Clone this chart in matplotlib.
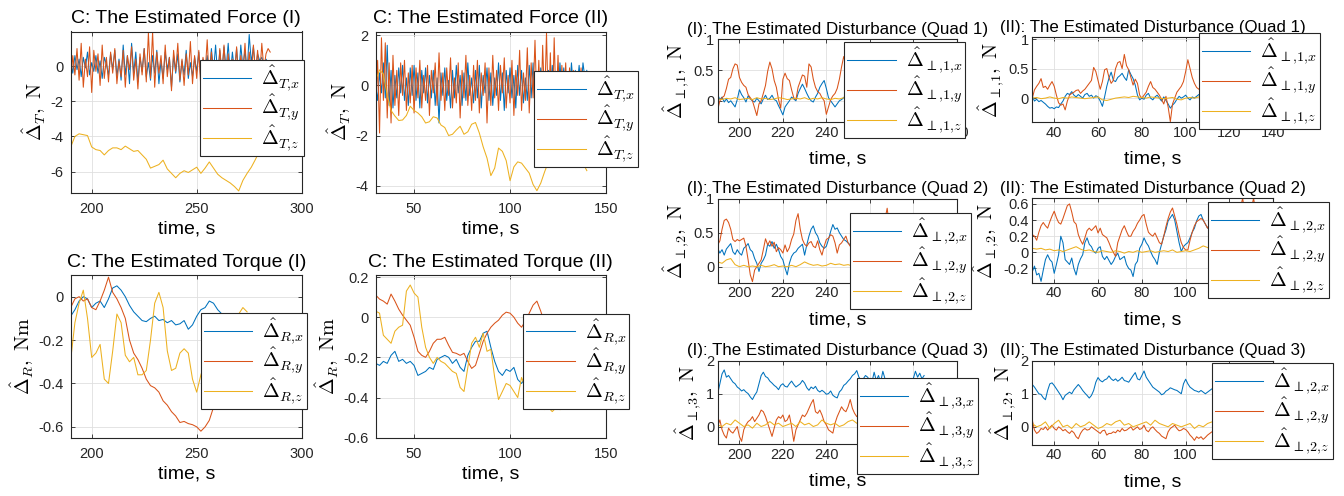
import numpy as np
import matplotlib
matplotlib.use("Agg")
import matplotlib.pyplot as plt
from matplotlib.ticker import FuncFormatter

plt.rcParams['font.family'] = ['Liberation Sans', 'DejaVu Sans']
plt.rcParams['mathtext.fontset'] = 'cm'
plt.rcParams['axes.unicode_minus'] = False

BLUE, ORANGE, YELLOW = '#0072BD', '#D95319', '#EDB120'

### Data
# C: estimated force (I), t = 190..285 s
force1_x = [0.3, -0.4, 0.6, -0.2, 0.4, -0.6, 0.5, -0.1, 0.8, -0.5,
            0.2, -0.3, 0.6, -0.4, 0.3, -0.7, 0.5, 0.1, -0.5, 0.7,
            -0.2, 0.9, -0.6, 0.4, -0.8, 1.2, -0.5, 0.6, -1.0, 1.3,
            -0.4, 0.8, -0.9, 0.5, -0.3, 1.0, -0.6, 0.2, -0.8, 0.6,
            -0.4, 0.9, -1.0, 0.3, -0.7, 0.8, -0.2, 0.5, -1.2, 0.6,
            -0.4, 0.7, -0.9, 0.3, -0.5, 0.9, -0.7, 0.2, -0.6, 0.5,
            -0.3, 0.8, -0.8, 0.4, -0.2, 0.6, -0.5, 1.0, -0.3, 1.2,
            -0.6, 0.9, -0.4, 1.1, -0.2, 1.3, -0.5, 0.8, -0.3, 1.0,
            -0.6, 1.2, -0.1, 0.9, -0.4, 1.8, 0.2, 1.1, -0.3, 0.7,
            0.3, 0.5, 0.1, 0.4, 0.2, 0.3]
force1_y = [-1.0, 0.6, -0.5, 1.0, -0.8, 1.3, -1.2, 0.4, -0.6, 1.1,
            -1.5, 0.9, -0.3, 0.7, -1.1, 1.2, -0.7, 0.5, -0.9, 0.8,
            -0.4, 1.0, -1.0, 0.3, -0.6, 0.9, -1.2, 0.6, -0.2, 1.1,
            -0.8, 0.4, -1.3, 0.7, -0.5, 1.0, -0.9, 1.9, -0.7, 1.95,
            -1.2, 0.8, -0.4, 0.6, -1.0, 1.2, -0.6, 0.5, -1.4, 0.9,
            -0.3, 1.3, -0.8, 0.4, -1.1, 0.7, -0.5, 1.4, -1.0, 0.6,
            -0.7, 0.9, -1.3, 0.5, -0.4, 1.5, -0.9, 0.8, -0.6, 0.3,
            -1.1, 1.0, -0.5, 1.2, -0.8, 0.7, -1.0, 0.4, -0.6, 1.1,
            -0.9, 0.6, -0.3, 1.3, -0.7, 0.8, -0.5, 1.2, -0.4, 0.9,
            -0.6, 1.3, -0.2, 0.7, 1.0, 0.8]
force1_z = [-4.6, -4.0, -3.85, -3.9, -3.95, -4.6, -4.75, -4.8, -5.05, -4.8,
            -4.65, -4.65, -4.75, -4.55, -4.7, -4.85, -4.8, -5.05, -5.3, -5.8,
            -5.7, -5.6, -5.35, -5.85, -6.1, -6.35, -6.1, -5.95, -6.05, -5.9,
            -5.75, -6.1, -5.8, -5.45, -5.8, -6.15, -6.35, -6.5, -6.65, -6.85,
            -7.1, -6.5, -6.1, -5.75, -5.3, -4.8, -4.65, -4.5]

# C: estimated force (II), t = 30..140 s
force2_x = [0.0, -0.6, 0.5, -0.3, 0.9, -0.5, 1.6, -0.8, 0.6, -0.9,
            0.4, -0.5, 0.7, -0.3, 0.8, -0.6, 0.3, -0.8, 0.7, -0.4,
            0.8, -0.6, 0.5, -0.9, 0.6, -0.3, 0.7, -0.7, 0.4, -0.5,
            0.6, -0.8, 0.3, -1.5, 0.5, -0.4, 0.7, -0.6, 0.2, -0.9,
            0.6, -0.5, 0.8, -0.3, 0.4, -0.8, 0.5, -0.6, 0.9, -0.4,
            0.3, -0.7, 0.6, -0.5, 0.8, -0.9, 0.4, -0.3, 0.7, -0.6,
            0.5, -0.8, 0.3, -0.4, 0.9, -0.6, 0.5, -1.0, 0.6, -0.3,
            0.7, -0.5, 0.4, -0.9, 0.8, -0.4, 0.6, -0.7, 0.3, -0.6,
            0.8, -0.5, 0.9, -0.8, 0.4, -0.6, 0.7, -0.3, 0.5, -0.7,
            0.6, -0.4, 0.8, -0.5, 0.3, -0.6, 0.9, -0.2, 0.7, -0.4,
            0.5, -0.3, 0.9, -0.1, 0.6, 0.0, 0.8, -0.2, 0.9, 0.3, 0.6]
force2_y = [-1.1, 1.0, -1.9, 1.9, -0.6, 1.7, -1.3, 0.9, -1.5, 1.2,
            -0.8, 0.6, -1.2, 0.9, -0.4, 1.0, -1.0, 0.5, -0.7, 0.8,
            -1.1, 0.7, -0.5, 1.0, -0.9, 0.4, -0.6, 0.8, -1.2, 0.6,
            -0.3, 0.9, -0.8, 1.3, -0.6, 0.5, -1.0, 0.7, -0.4, 1.1,
            -0.9, 0.3, -0.7, 0.9, -1.3, 0.6, -0.5, 1.2, -0.8, 0.4,
            -1.0, 0.8, -0.6, 1.0, -1.1, 0.5, -0.4, 0.9, -1.5, 0.7,
            -0.8, 1.2, -0.5, 0.6, -1.0, 0.8, -0.3, 1.1, -0.9, 0.4,
            -0.7, 1.0, -1.2, 0.6, -0.4, 1.4, -1.0, 0.5, -0.6, 1.5,
            -1.1, 0.9, -0.5, 1.8, -0.8, 1.0, -1.3, 1.6, -0.7, 2.1,
            -1.2, 1.3, -1.4, 1.9, -0.9, 1.2, -1.0, 0.8, -0.6, 0.9,
            -1.1, 0.7, -0.5, 0.6, -0.8, 0.5, -0.4, 0.7, -0.6, 0.4, -0.2]
force2_z = [0.2, 0.62, 0.45, -0.4, -1.0, -1.22, -1.4, -1.38, -1.2, -0.83,
            -1.0, -1.1, -1.25, -1.5, -1.45, -1.25, -1.3, -1.58, -1.68, -2.0,
            -1.95, -1.78, -1.63, -1.95, -1.85, -1.55, -1.48, -1.9, -2.45, -2.9,
            -3.6, -3.3, -2.5, -2.63, -3.0, -3.8, -3.25, -3.05, -3.1, -3.3,
            -3.5, -3.95, -4.2, -3.9, -3.45, -3.05, -3.1, -3.15, -3.05, -3.1,
            -3.15, -3.05, -3.1, -3.05, -3.1, -3.4]

# C: estimated torque (I), t = 190..274 s
torque1_x = [-0.09, -0.06, -0.02, 0.0, -0.01, -0.05, -0.03, -0.02, -0.05, -0.01,
             0.04, 0.05, 0.03, 0.0, -0.04, -0.07, -0.09, -0.11, -0.115, -0.1,
             -0.09, -0.11, -0.105, -0.12, -0.11, -0.13, -0.125, -0.11, -0.15, -0.13,
             -0.09, -0.06, -0.05, -0.02, -0.03, -0.06, -0.08, -0.1, -0.12, -0.11,
             -0.13, -0.12, -0.14]
torque1_y = [-0.05, -0.01, 0.0, -0.02, -0.01, -0.05, -0.06, -0.02, 0.03, 0.09,
             0.02, -0.01, -0.05, -0.1, -0.2, -0.26, -0.29, -0.33, -0.38, -0.41,
             -0.42, -0.44, -0.48, -0.5, -0.53, -0.55, -0.58, -0.575, -0.585, -0.59,
             -0.6, -0.62, -0.6, -0.57, -0.51, -0.45, -0.4, -0.36, -0.33, -0.3,
             -0.28, -0.27, -0.26]
torque1_z = [-0.29, -0.12, -0.03, 0.03, -0.1, -0.28, -0.26, -0.22, -0.38, -0.4,
             -0.25, -0.08, -0.12, -0.27, -0.3, -0.28, -0.36, -0.36, -0.34, -0.2,
             -0.03, 0.02, -0.05, -0.25, -0.34, -0.33, -0.26, -0.24, -0.26, -0.38,
             -0.44, -0.36, -0.3, -0.25, -0.2, -0.18, -0.15, -0.17, -0.12, -0.1,
             -0.08, -0.05, -0.07]

# C: estimated torque (II), t = 30..126 s
torque2_x = [-0.23, -0.24, -0.22, -0.23, -0.19, -0.17, -0.22, -0.21, -0.23, -0.22,
             -0.24, -0.29, -0.28, -0.27, -0.25, -0.26, -0.21, -0.2, -0.19, -0.2,
             -0.23, -0.21, -0.25, -0.27, -0.19, -0.15, -0.12, -0.12, -0.08, -0.07,
             -0.15, -0.22, -0.27, -0.29, -0.26, -0.27, -0.25, -0.31, -0.33, -0.3,
             -0.28, -0.27, -0.3, -0.32, -0.3, -0.29, -0.31, -0.3, -0.32]
torque2_y = [0.11, 0.09, 0.08, 0.065, 0.115, 0.08, 0.04, 0.01, -0.015, -0.04,
             -0.1, -0.17, -0.19, -0.2, -0.17, -0.13, -0.11, -0.11, -0.1, -0.14,
             -0.175, -0.18, -0.19, -0.18, -0.22, -0.255, -0.24, -0.18, -0.12, -0.08,
             -0.05, -0.03, -0.015, 0.01, 0.025, 0.02, 0.0, -0.03, -0.05, -0.02,
             0.02, 0.06, 0.08, 0.03, -0.03, -0.06, -0.08, -0.1, -0.11]
torque2_z = [0.03, 0.02, -0.09, -0.11, -0.13, -0.07, -0.05, -0.04, 0.13, 0.16,
             0.12, 0.1, -0.05, -0.15, -0.2, -0.23, -0.2, -0.22, -0.23, -0.25,
             -0.27, -0.28, -0.35, -0.37, -0.25, -0.13, -0.1, -0.15, -0.08, -0.17,
             -0.16, -0.3, -0.41, -0.37, -0.33, -0.34, -0.37, -0.4, -0.3, -0.35,
             -0.38, -0.42, -0.4, -0.43, -0.46, -0.45, -0.47, -0.45, -0.46]

# (I) disturbance quad 1, t = 190..285 s
q1a_x = [0.1, 0.02, 0.06, -0.02, 0.03, -0.03, 0.0, -0.05, -0.1, 0.02,
         0.18, 0.1, 0.05, -0.02, 0.08, 0.03, 0.0, -0.02, 0.04, 0.0,
         -0.05, 0.03, 0.09, 0.02, 0.04, 0.09, 0.02, 0.0, -0.08, -0.15,
         -0.23, -0.1, -0.05, 0.0, 0.06, 0.03, 0.0, 0.12, 0.2, 0.27,
         0.2, 0.12, 0.05, 0.0, -0.02, 0.06, 0.12, 0.22, 0.28, 0.33,
         0.2, 0.05, 0.0, -0.05, -0.1, -0.05, 0.0, 0.02, 0.05, 0.1,
         0.15, 0.1, 0.05, 0.0, -0.05, 0.0, 0.08, 0.12, 0.05, 0.0,
         -0.05, 0.02, 0.1, 0.15, 0.08, 0.0, -0.05, 0.0, 0.05, 0.1,
         0.05, 0.0, 0.02, 0.08, 0.12, 0.06, 0.0, -0.04, 0.02, 0.06,
         0.1, 0.05, 0.0, 0.03, 0.06, 0.02]
q1a_y = [-0.15, 0.0, 0.05, 0.08, 0.2, 0.35, 0.38, 0.52, 0.6, 0.58,
         0.38, 0.3, 0.25, 0.22, 0.1, 0.05, 0.0, -0.12, -0.24, -0.05,
         0.0, 0.12, 0.25, 0.48, 0.63, 0.52, 0.33, 0.22, 0.02, -0.12,
         0.35, 0.45, 0.36, 0.33, 0.18, 0.05, 0.02, 0.22, 0.32, 0.42,
         0.4, 0.22, 0.6, 0.55, 0.35, 0.22, 0.15, 0.12, 0.05, 0.0,
         -0.22, -0.1, 0.02, 0.08, 0.12, 0.2, 0.35, 0.55, 0.72, 0.6,
         0.45, 0.3, 0.2, 0.1, 0.15, 0.3, 0.45, 0.55, 0.4, 0.25,
         0.1, 0.0, -0.05, 0.1, 0.25, 0.4, 0.5, 0.35, 0.2, 0.1,
         0.05, 0.15, 0.3, 0.45, 0.35, 0.2, 0.1, 0.0, 0.05, 0.2,
         0.3, 0.25, 0.15, 0.1, 0.05, 0.1]
q1a_z = [0.03, 0.02, 0.04, 0.03, 0.05, 0.02, 0.03, 0.04, 0.02, 0.05,
         0.03, 0.04, 0.02, 0.03, 0.05, 0.04, 0.02, 0.03, 0.04, 0.03,
         0.05, 0.02, 0.04, 0.03, 0.05, 0.03, 0.02, 0.04, 0.03, 0.05,
         0.04, 0.02, 0.03, 0.04, 0.03, 0.02, 0.04, 0.03, 0.05, 0.03,
         0.02, 0.04, 0.03, 0.02, 0.04, 0.03, 0.05, 0.03]

# (II) disturbance quad 1, t = 30..139 s
q1b_x = [0.03, -0.05, -0.02, -0.06, -0.04, -0.07, -0.1, -0.14, -0.17, -0.16,
         -0.18, -0.15, -0.16, -0.1, -0.05, 0.03, 0.08, 0.06, 0.11, 0.05,
         0.02, 0.06, 0.03, 0.0, 0.06, 0.08, 0.03, 0.05, 0.0, 0.04,
         0.02, -0.05, -0.14, 0.02, 0.2, 0.34, 0.44, 0.3, 0.28, 0.35,
         0.38, 0.42, 0.35, 0.3, 0.48, 0.4, 0.33, 0.22, 0.05, -0.03,
         0.0, -0.02, 0.05, 0.08, 0.0, -0.03, 0.02, 0.05, 0.0, -0.05,
         0.02, -0.04, -0.1, -0.17, -0.12, -0.08, -0.02, 0.03, 0.0, 0.02,
         0.05, 0.0, -0.03, 0.02, 0.0, 0.03, 0.06, 0.02, -0.02, 0.0,
         0.05, 0.08, 0.04, 0.0, -0.03, 0.02, 0.06, 0.1, 0.05, 0.0,
         -0.04, 0.0, 0.05, 0.02, -0.02, 0.03, 0.07, 0.04, 0.0, -0.03,
         0.01, 0.05, 0.03, 0.0, 0.02, 0.04, 0.01, -0.02, 0.0, 0.03]
q1b_y = [0.0, 0.14, 0.2, 0.25, 0.33, 0.18, 0.2, 0.15, 0.22, 0.28,
         0.2, 0.05, -0.08, -0.12, -0.1, -0.2, -0.05, 0.05, 0.08, 0.1,
         0.13, 0.14, 0.08, 0.12, 0.15, 0.2, 0.25, 0.3, 0.52, 0.45,
         0.3, 0.15, 0.28, 0.48, 0.5, 0.35, 0.25, 0.3, 0.5, 0.6,
         0.62, 0.5, 0.74, 0.55, 0.48, 0.35, 0.22, 0.32, 0.25, 0.05,
         0.0, 0.05, 0.1, 0.2, 0.28, 0.18, 0.15, 0.1, 0.05, -0.02,
         -0.1, 0.03, -0.15, -0.4, -0.1, 0.0, 0.1, 0.15, 0.2, 0.28,
         0.45, 0.65, 0.5, 0.35, 0.25, 0.18, 0.15, 0.2, 0.3, 0.25,
         0.15, 0.1, 0.05, 0.1, 0.2, 0.3, 0.35, 0.25, 0.15, 0.05,
         0.0, 0.1, 0.2, 0.25, 0.2, 0.1, 0.05, 0.1, 0.15, 0.2,
         0.15, 0.1, 0.05, 0.0, 0.05, 0.1, 0.15, 0.1, 0.05, 0.08]
q1b_z = [0.0, 0.01, -0.01, 0.0, 0.02, 0.0, -0.01, 0.01, 0.0, 0.02,
         0.01, 0.0, -0.01, 0.0, 0.01, 0.02, -0.03, -0.04, -0.02, 0.0,
         0.01, 0.02, 0.01, 0.03, 0.02, 0.01, 0.0, 0.02, 0.01, 0.0,
         -0.01, 0.0, 0.01, -0.02, -0.03, 0.0, 0.01, 0.0, 0.02, 0.01,
         0.0, -0.01, 0.0, 0.01, 0.02, 0.0, -0.01, 0.01, 0.0, 0.02,
         0.01, 0.0, 0.01, 0.0, 0.01]

# (I) disturbance quad 2, t = 190..285 s
q2a_x = [0.27, 0.2, 0.25, 0.17, 0.26, 0.3, 0.34, 0.22, 0.18, 0.25,
         0.2, 0.17, 0.27, 0.3, 0.34, 0.25, 0.22, 0.12, 0.05, -0.07,
         0.05, 0.1, 0.17, 0.33, 0.3, 0.37, 0.27, 0.33, 0.25, 0.15,
         0.1, -0.02, -0.12, 0.05, 0.15, 0.2, 0.22, 0.27, 0.3, 0.33,
         0.17, 0.32, 0.45, 0.55, 0.6, 0.5, 0.45, 0.35, 0.3, 0.27,
         0.3, 0.4, 0.52, 0.62, 0.55, 0.57, 0.5, 0.45, 0.4, 0.38,
         0.35, 0.32, 0.4, 0.45, 0.5, 0.42, 0.35, 0.3, 0.28, 0.35,
         0.42, 0.48, 0.4, 0.35, 0.3, 0.25, 0.3, 0.38, 0.45, 0.4,
         0.35, 0.3, 0.28, 0.32, 0.38, 0.42, 0.36, 0.3, 0.27, 0.3,
         0.35, 0.4, 0.36, 0.3, 0.28, 0.32]
q2a_y = [0.32, 0.38, 0.55, 0.68, 0.7, 0.65, 0.55, 0.4, 0.37, 0.4,
         0.38, 0.4, 0.42, 0.3, 0.1, -0.12, -0.22, -0.05, 0.0, 0.05,
         0.1, 0.25, 0.41, 0.32, 0.38, 0.3, 0.36, 0.22, 0.28, 0.25,
         0.2, 0.32, 0.22, 0.28, 0.4, 0.48, 0.68, 0.78, 0.55, 0.4,
         0.33, 0.3, 0.35, 0.37, 0.3, 0.28, 0.38, 0.25, 0.17, 0.3,
         0.4, 0.42, 0.47, 0.45, 0.35, 0.2, 0.32, 0.35, 0.4, 0.45,
         0.35, 0.3, 0.38, 0.42, 0.5, 0.45, 0.35, 0.3, 0.4, 0.48,
         0.55, 0.5, 0.4, 0.35, 0.45, 0.55, 0.6, 0.7, 0.86, 0.6,
         0.45, 0.4, 0.35, 0.42, 0.5, 0.45, 0.38, 0.3, 0.35, 0.42,
         0.48, 0.4, 0.32, 0.28, 0.35, 0.4]
q2a_z = [0.07, 0.05, 0.1, 0.12, 0.03, 0.0, 0.02, 0.0, 0.01, 0.0,
         0.02, 0.0, 0.01, 0.03, 0.0, 0.01, 0.0, 0.02, 0.0, 0.03,
         0.07, 0.04, 0.02, 0.03, 0.01, 0.02, 0.05, 0.03, 0.04, 0.02,
         0.03, 0.01, 0.04, 0.02, 0.03, 0.01, 0.02, 0.04, 0.02, 0.03,
         0.01, 0.02, 0.03, 0.02, 0.04, 0.02, 0.03, 0.02]

# (II) disturbance quad 2, t = 30..139 s
q2b_x = [-0.24, -0.17, -0.28, -0.26, -0.36, -0.22, -0.09, -0.03, -0.09, -0.12,
         -0.26, -0.15, -0.03, 0.2, 0.12, -0.09, -0.12, -0.15, -0.07, -0.2,
         -0.28, -0.15, -0.08, -0.03, 0.12, 0.18, 0.1, 0.07, 0.01, -0.01,
         0.05, 0.07, -0.05, -0.09, -0.05, -0.1, -0.15, -0.11, -0.05, -0.01,
         -0.09, -0.07, -0.05, -0.15, -0.2, -0.22, -0.3, -0.15, -0.11, 0.05,
         0.1, 0.18, 0.12, 0.08, 0.01, -0.05, -0.09, -0.15, 0.0, 0.1,
         0.2, 0.28, 0.39, 0.43, 0.47, 0.4, 0.26, 0.12, 0.01, 0.07,
         0.1, 0.12, 0.18, 0.25, 0.3, 0.39, 0.45, 0.47, 0.4, 0.35,
         0.3, 0.35, 0.3, 0.2, 0.15, 0.1, 0.15, 0.2, 0.25, 0.2,
         0.12, 0.05, 0.1, 0.15, 0.2, 0.15, 0.1, 0.05, 0.0, 0.05,
         0.1, 0.08, 0.05, 0.02, 0.05, 0.1, 0.08, 0.04, 0.02, 0.05]
q2b_y = [0.22, 0.2, 0.15, 0.25, 0.33, 0.37, 0.33, 0.3, 0.38, 0.45,
         0.51, 0.43, 0.37, 0.35, 0.42, 0.5, 0.58, 0.6, 0.5, 0.38,
         0.35, 0.22, 0.15, 0.1, 0.18, 0.27, 0.3, 0.27, 0.3, 0.33,
         0.24, 0.3, 0.22, 0.2, 0.18, 0.12, 0.05, 0.0, -0.05, 0.12,
         0.2, 0.28, 0.33, 0.26, 0.2, 0.2, 0.26, 0.3, 0.36, 0.4,
         0.45, 0.47, 0.35, 0.25, 0.22, 0.2, 0.24, 0.18, 0.12, 0.1,
         0.2, 0.32, 0.42, 0.5, 0.55, 0.45, 0.35, 0.22, 0.12, 0.06,
         0.03, 0.03, 0.15, 0.25, 0.33, 0.38, 0.4, 0.42, 0.4, 0.35,
         0.3, 0.35, 0.42, 0.45, 0.4, 0.35, 0.3, 0.35, 0.4, 0.45,
         0.5, 0.45, 0.4, 0.42, 0.5, 0.55, 0.67, 0.5, 0.45, 0.5,
         0.55, 0.67, 0.5, 0.42, 0.38, 0.35, 0.4, 0.42, 0.38, 0.35]
q2b_z = [0.05, 0.04, 0.05, 0.03, 0.04, 0.02, 0.03, 0.01, 0.03, 0.05,
         0.07, 0.04, 0.02, 0.03, 0.01, 0.0, 0.02, 0.01, 0.0, 0.02,
         0.01, -0.01, 0.01, 0.0, 0.02, 0.0, 0.01, 0.02, 0.0, 0.01,
         0.02, 0.01, 0.03, 0.0, 0.01, 0.02, 0.01, 0.03, 0.05, 0.08,
         0.06, 0.03, 0.02, 0.01, -0.02, -0.03, -0.02, -0.03, -0.01, 0.0,
         -0.02, -0.01, 0.0, -0.01, 0.0]

# (I) disturbance quad 3, t = 190..285 s
q3a_x = [1.0, 1.3, 1.6, 1.72, 1.5, 1.55, 1.45, 1.35, 1.3, 1.2,
         1.15, 1.08, 1.12, 1.05, 1.0, 0.9, 0.82, 0.95, 1.05, 1.3,
         1.55, 1.65, 1.52, 1.48, 1.38, 1.32, 1.25, 1.2, 1.12, 1.25,
         1.3, 1.22, 1.2, 1.3, 1.38, 1.28, 1.2, 1.25, 1.3, 1.4,
         1.32, 1.18, 1.1, 1.2, 1.15, 1.22, 1.1, 1.05, 1.1, 1.05,
         0.98, 1.0, 1.08, 0.95, 0.9, 0.87, 1.05, 1.12, 1.25, 1.3,
         1.38, 1.45, 1.55, 1.6, 1.7, 1.5, 1.4, 1.45, 1.55, 1.5,
         1.4, 1.35, 1.65, 1.4, 1.55, 1.35, 1.68, 1.45, 1.3, 1.4,
         1.35, 1.25, 1.3, 1.4, 1.3, 1.25, 1.35, 1.4, 1.35, 1.3,
         1.45, 1.68, 1.5, 1.62, 1.45, 1.55]
q3a_y = [0.0, 0.2, -0.1, -0.26, -0.35, -0.05, -0.15, -0.2, -0.1, 0.0,
         -0.3, -0.45, -0.1, 0.05, 0.15, 0.2, 0.3, 0.15, 0.25, 0.35,
         0.5, 0.45, 0.3, 0.1, -0.1, -0.3, -0.05, 0.2, 0.3, 0.25,
         0.35, 0.15, 0.2, 0.35, 0.0, -0.45, -0.1, 0.05, 0.2, 0.35,
         0.3, 0.4, 0.55, 0.7, 0.82, 0.45, 0.4, 0.5, 0.35, 0.15,
         0.05, -0.1, -0.15, -0.2, 0.1, 0.3, 0.45, 0.6, 0.5, 0.45,
         0.6, 0.82, 0.55, 0.4, 0.3, 0.4, 0.5, 0.35, 0.2, 0.1,
         0.25, 0.4, 0.3, 0.15, 0.05, 0.2, 0.35, 0.45, 0.3, 0.15,
         0.0, 0.1, 0.25, 0.4, 0.3, 0.15, 0.05, 0.2, 0.3, 0.2,
         0.1, 0.0, 0.15, 0.25, 0.2, 0.1]
q3a_z = [0.05, 0.0, 0.1, 0.05, 0.2, 0.1, 0.0, 0.05, -0.05, 0.1,
         0.0, 0.05, 0.15, 0.05, 0.1, 0.0, 0.05, 0.1, 0.0, 0.15,
         0.05, 0.1, 0.0, 0.05, 0.2, 0.1, 0.05, 0.1, 0.0, 0.05,
         0.15, 0.2, 0.1, 0.05, 0.1, 0.0, 0.05, 0.1, 0.05, 0.15,
         0.1, 0.05, 0.0, 0.1, 0.05, 0.1, 0.05, 0.0]

# (II) disturbance quad 3, t = 30..139 s
q3b_x = [1.28, 1.2, 1.1, 1.0, 0.98, 0.88, 0.82, 1.1, 1.3, 1.33,
         1.25, 1.15, 1.05, 0.95, 0.82, 0.95, 1.0, 1.05, 1.0, 1.12,
         1.2, 1.28, 1.2, 1.1, 1.02, 0.95, 0.87, 0.95, 1.1, 1.35,
         1.49, 1.4, 1.36, 1.42, 1.45, 1.54, 1.45, 1.4, 1.45, 1.38,
         1.43, 1.5, 1.4, 1.38, 1.35, 1.45, 1.55, 1.64, 1.45, 1.42,
         1.55, 1.69, 1.5, 1.4, 1.3, 1.2, 1.15, 1.1, 1.05, 0.97,
         1.0, 1.08, 1.12, 1.18, 1.15, 1.12, 1.1, 1.05, 1.0, 1.3,
         1.44, 1.3, 1.2, 1.15, 1.1, 1.08, 1.05, 1.1, 1.05, 1.0,
         1.05, 1.1, 1.15, 1.1, 1.05, 1.0, 1.1, 1.2, 1.15, 1.1,
         1.05, 1.1, 1.15, 1.2, 1.1, 1.05, 1.0, 1.05, 1.1, 1.15,
         1.1, 1.05, 1.0, 1.05, 1.1, 1.08, 1.05, 1.0, 1.05, 1.1]
q3b_y = [0.2, -0.1, -0.2, -0.15, -0.05, -0.08, 0.0, -0.1, -0.02, 0.05,
         -0.05, -0.1, 0.0, -0.05, -0.12, -0.08, -0.15, -0.2, -0.12, -0.18,
         -0.3, -0.36, -0.2, -0.1, -0.05, -0.1, -0.08, 0.0, -0.05, -0.1,
         -0.15, -0.2, -0.12, -0.1, -0.25, -0.2, -0.2, -0.15, -0.18, -0.1,
         -0.15, -0.05, -0.12, -0.1, -0.05, 0.0, -0.1, -0.05, 0.0, -0.08,
         -0.05, 0.05, -0.1, -0.15, -0.05, 0.0, -0.08, -0.15, -0.2, -0.28,
         -0.32, -0.36, -0.15, -0.05, 0.0, 0.05, -0.05, -0.12, -0.1, -0.05,
         -0.08, -0.15, -0.25, -0.32, -0.41, -0.3, -0.35, -0.3, -0.38, -0.32,
         -0.25, -0.2, -0.15, -0.2, -0.25, -0.18, -0.12, -0.15, -0.2, -0.22,
         -0.15, -0.1, -0.12, -0.18, -0.2, -0.15, -0.1, -0.05, -0.1, -0.15,
         -0.18, -0.12, -0.08, -0.1, -0.15, -0.12, -0.1, -0.08, -0.12, -0.1]
q3b_z = [0.1, 0.0, 0.05, 0.15, -0.05, 0.1, 0.2, 0.0, 0.05, -0.05,
         0.1, 0.0, 0.05, 0.15, 0.05, -0.05, 0.0, 0.1, 0.05, 0.15,
         0.2, 0.05, 0.1, 0.0, 0.05, 0.1, 0.15, 0.05, 0.2, 0.1,
         0.05, 0.0, 0.1, 0.05, 0.0, 0.05, 0.1, -0.05, 0.05, 0.0,
         0.1, 0.15, 0.05, 0.0, 0.05, 0.1, 0.05, 0.0, 0.05, 0.1,
         0.0, 0.05, 0.08, 0.02, 0.05]

# legend labels
lab_T = [r'$\hat{\Delta}_{T{,}x}$', r'$\hat{\Delta}_{T{,}y}$', r'$\hat{\Delta}_{T{,}z}$']
lab_R = [r'$\hat{\Delta}_{R{,}x}$', r'$\hat{\Delta}_{R{,}y}$', r'$\hat{\Delta}_{R{,}z}$']
def lab_q(n):
    return [r'$\hat{\Delta}_{\perp{,}%d{,}%s}$' % (n, c) for c in 'xyz']


### Figure
W, H = 1344, 496
fig = plt.figure(figsize=(W / 100, H / 100), dpi=100)
AX_COL = '#262626'


def panel(box, series, xlim, ylim, xticks, yticks, title, ylabel, labels,
          leg_at, big=True):
    left, top, right, bottom = box
    ax = fig.add_axes([left / W, 1 - bottom / H, (right - left) / W, (bottom - top) / H])
    for (t0, t1, vals), col, lab in zip(series, [BLUE, ORANGE, YELLOW], labels):
        t = np.linspace(t0, t1, len(vals))
        ax.plot(t, vals, color=col, lw=0.75, label=lab)
    ax.set_xlim(*xlim)
    ax.set_ylim(*ylim)
    ax.set_xticks(xticks)
    ax.set_yticks(yticks)
    fmt = FuncFormatter(lambda v, p: f'{v:g}')
    ax.xaxis.set_major_formatter(fmt)
    ax.yaxis.set_major_formatter(fmt)
    ax.grid(True, color='#dfdfdf', lw=0.6)
    ax.set_axisbelow(True)
    ax.tick_params(direction='in', length=3, width=0.6, top=True, right=True,
                   labelsize=10.5, colors=AX_COL)
    ax.tick_params(axis='x', pad=7 if big else 2.5)
    ax.tick_params(axis='y', pad=5 if big else 2.5)
    for s in ax.spines.values():
        s.set_color(AX_COL)
        s.set_linewidth(0.8)
    ax.set_title(title, fontsize=14 if big else 12.2, pad=6 if big else 4)
    ax.set_xlabel('time, s', fontsize=14, labelpad=3 if big else 8)
    ax.set_ylabel(ylabel, fontsize=14.5, labelpad=2)
    leg = ax.legend(loc='upper left', bbox_to_anchor=(leg_at[0] / W, 1 - leg_at[1] / H),
                    bbox_transform=fig.transFigure, borderaxespad=0, fontsize=14.5,
                    handlelength=2.4, handletextpad=0.5, labelspacing=0.0,
                    borderpad=0.15, fancybox=False, framealpha=1, edgecolor='#262626')
    leg.get_frame().set_linewidth(0.8)
    return ax


N = r',\ \mathrm{N}$'
# left block
panel((70.7, 31.5, 301.7, 192.7),
      [(190, 285, force1_x), (190, 285, force1_y), (190, 284, force1_z)],
      (190, 300), (-7.2, 1.97), [200, 250, 300], [-6, -4, -2, 0],
      'C: The Estimated Force (I)', r'$\hat{\Delta}_{T}' + N, lab_T, (200, 60.3))
panel((375.7, 31.5, 606, 192.7),
      [(30, 140, force2_x), (30, 140, force2_y), (30, 140, force2_z)],
      (30, 150), (-4.28, 2.15), [50, 100, 150], [-4, -2, 0, 2],
      'C: The Estimated Force (II)', r'$\hat{\Delta}_{T}' + N, lab_T, (534.3, 71.3))
panel((70.7, 275, 301.7, 437.7),
      [(190, 274, torque1_x), (190, 274, torque1_y), (190, 274, torque1_z)],
      (190, 300), (-0.65, 0.1), [200, 250, 300], [-0.6, -0.4, -0.2, 0],
      'C: The Estimated Torque (I)', r'$\hat{\Delta}_{R},\ \mathrm{Nm}$', lab_R, (201, 313.3))
panel((375.7, 275, 606, 437.7),
      [(30, 126, torque2_x), (30, 126, torque2_y), (30, 126, torque2_z)],
      (30, 150), (-0.6, 0.21), [50, 100, 150], [-0.6, -0.4, -0.2, 0, 0.2],
      'C: The Estimated Torque (II)', r'$\hat{\Delta}_{R},\ \mathrm{Nm}$', lab_R, (523.3, 314))

# right block: disturbances
ticks_a = [200, 220, 240, 260, 280, 300]
ticks_b = [40, 60, 80, 100, 120, 140]
panel((717.7, 39.3, 956.7, 122.3),
      [(190, 285, q1a_x), (190, 285, q1a_y), (190, 284, q1a_z)],
      (190, 300), (-0.35, 1.0), ticks_a, [0, 0.5, 1],
      '(I): The Estimated Disturbance (Quad 1)', r'$\hat{\Delta}_{\perp{,}1}' + N, lab_q(1),
      (844.3, 42.3), False)
panel((1032.3, 37.3, 1273.3, 122.3),
      [(30, 139, q1b_x), (30, 139, q1b_y), (30, 138, q1b_z)],
      (30, 139), (-0.41, 1.03), ticks_b, [0, 0.5, 1],
      '(II): The Estimated Disturbance (Quad 1)', r'$\hat{\Delta}_{\perp{,}1}' + N, lab_q(1),
      (1199, 33.3), False)
panel((717.7, 198.7, 956.7, 283),
      [(190, 285, q2a_x), (190, 285, q2a_y), (190, 284, q2a_z)],
      (190, 300), (-0.24, 1.0), ticks_a, [0, 0.5, 1],
      '(I): The Estimated Disturbance (Quad 2)', r'$\hat{\Delta}_{\perp{,}2}' + N, lab_q(2),
      (850, 213.3), False)
panel((1032.3, 198.3, 1273.3, 283),
      [(30, 139, q2b_x), (30, 139, q2b_y), (30, 138, q2b_z)],
      (30, 139), (-0.38, 0.67), ticks_b, [-0.2, 0, 0.2, 0.4, 0.6],
      '(II): The Estimated Disturbance (Quad 2)', r'$\hat{\Delta}_{\perp{,}2}' + N, lab_q(2),
      (1207.7, 202.3), False)
panel((717.7, 360.7, 956.7, 444.3),
      [(190, 285, q3a_x), (190, 285, q3a_y), (190, 284, q3a_z)],
      (190, 300), (-0.54, 2.0), ticks_a, [0, 1, 2],
      '(I): The Estimated Disturbance (Quad 3)', r'$\hat{\Delta}_{\perp{,}3}' + N, lab_q(3),
      (856.7, 378.3), False)
panel((1032.3, 360.7, 1273.3, 445),
      [(30, 139, q3b_x), (30, 139, q3b_y), (30, 138, q3b_z)],
      (30, 139), (-0.55, 2.0), ticks_b, [0, 1, 2],
      '(II): The Estimated Disturbance (Quad 3)', r'$\hat{\Delta}_{\perp{,}2}' + N, lab_q(2),
      (1211.7, 363.3), False)

fig.savefig('out.png', dpi=100)
